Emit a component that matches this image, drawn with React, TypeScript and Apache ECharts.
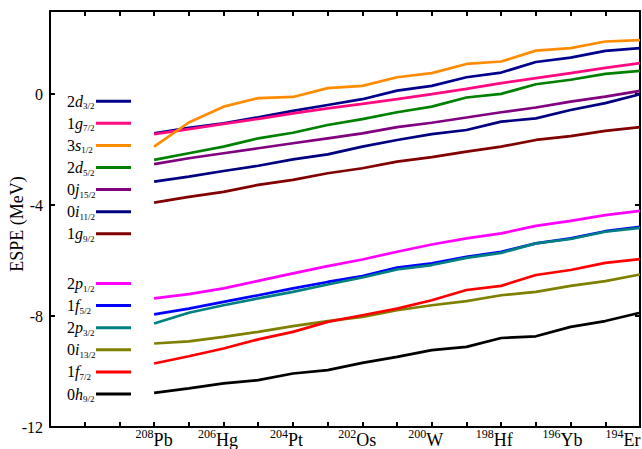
import React, { useEffect, useRef } from 'react';
import * as echarts from 'echarts';

const FONT = 'Liberation Serif';

// isotopes along the x axis (index 0..14, labels every second step)
const isotopeMass = ['208', '206', '204', '202', '200', '198', '196', '194'];
const isotopeSymbol = ['Pb', 'Hg', 'Pt', 'Os', 'W', 'Hf', 'Yb', 'Er'];

// orbital names (legend order)
const upperNames = ['2d3/2', '1g7/2', '3s1/2', '2d5/2', '0j15/2', '0i11/2', '1g9/2'];
const lowerNames = ['2p1/2', '1f5/2', '2p3/2', '0i13/2', '1f7/2', '0h9/2'];

// ESPE values (MeV) at x = 0..14
const s2d32 = [-1.41, -1.21, -1.05, -0.83, -0.6, -0.39, -0.18, 0.13, 0.3, 0.61, 0.78, 1.16, 1.32, 1.56, 1.66];
const s1g72 = [-1.44, -1.26, -1.07, -0.89, -0.69, -0.51, -0.35, -0.18, 0.0, 0.19, 0.4, 0.58, 0.76, 0.95, 1.12];
const s3s12 = [-1.89, -1.02, -0.45, -0.14, -0.1, 0.22, 0.3, 0.61, 0.76, 1.09, 1.18, 1.57, 1.66, 1.9, 1.95];
const s2d52 = [-2.37, -2.13, -1.89, -1.59, -1.39, -1.11, -0.9, -0.65, -0.45, -0.12, 0.01, 0.36, 0.52, 0.73, 0.84];
const s0j152 = [-2.52, -2.31, -2.13, -1.95, -1.77, -1.59, -1.41, -1.19, -1.03, -0.84, -0.65, -0.48, -0.27, -0.09, 0.12];
const s0i112 = [-3.15, -2.97, -2.77, -2.58, -2.35, -2.17, -1.89, -1.65, -1.44, -1.29, -0.99, -0.87, -0.57, -0.32, 0.0];
const s1g92 = [-3.91, -3.7, -3.52, -3.27, -3.09, -2.85, -2.67, -2.43, -2.27, -2.07, -1.89, -1.65, -1.51, -1.32, -1.19];
const s2p12 = [-7.36, -7.21, -7.0, -6.73, -6.46, -6.2, -5.96, -5.68, -5.42, -5.2, -5.02, -4.75, -4.57, -4.36, -4.21];
const s1f52 = [-7.94, -7.73, -7.49, -7.25, -7.0, -6.77, -6.56, -6.25, -6.1, -5.86, -5.68, -5.38, -5.2, -4.94, -4.78];
const s2p32 = [-8.27, -7.88, -7.61, -7.36, -7.13, -6.86, -6.61, -6.32, -6.16, -5.9, -5.72, -5.38, -5.22, -4.96, -4.82];
const s0i132 = [-8.99, -8.91, -8.75, -8.57, -8.36, -8.18, -8.03, -7.79, -7.61, -7.46, -7.25, -7.13, -6.91, -6.74, -6.5];
const s1f72 = [-9.71, -9.45, -9.17, -8.84, -8.57, -8.21, -7.97, -7.73, -7.43, -7.06, -6.91, -6.52, -6.34, -6.08, -5.95];
const s0h92 = [-10.77, -10.61, -10.43, -10.31, -10.07, -9.95, -9.69, -9.47, -9.23, -9.11, -8.79, -8.73, -8.39, -8.18, -7.88];

const seriesValues = [s2d32, s1g72, s3s12, s2d52, s0j152, s0i112, s1g92, s2p12, s1f52, s2p32, s0i132, s1f72, s0h92];
const seriesNames = [...upperNames, ...lowerNames];
const seriesColors = [
  '#00008b', '#ff0a80', '#ff8c00', '#008000', '#800080', '#000080', '#800000',
  '#ff00ff', '#0000ff', '#008080', '#808000', '#ff0000', '#000000',
];

// label horizontal nudge (pad widths) for the isotope labels
const labelPad = [0, 11, 13, 10, 12, 14, 16, 34];

const xRich: Record<string, any> = {
  sup: { fontSize: 12, fontFamily: FONT, color: '#000', padding: [0, 0, 12, 0], lineHeight: 18 },
  el: { fontSize: 18, fontFamily: FONT, color: '#000', lineHeight: 18 },
};
labelPad.forEach((w, i) => {
  xRich['p' + i] = { width: w, fontSize: 12, lineHeight: 18 };
});

const legendRich = {
  n: { fontSize: 16, fontFamily: FONT, color: '#000', lineHeight: 16, align: 'left' },
  l: { fontSize: 16, fontFamily: FONT, fontStyle: 'italic', color: '#000', lineHeight: 16, align: 'left' },
  s: { fontSize: 9, fontFamily: FONT, color: '#000', lineHeight: 16, padding: [10, 0, 0, 0], align: 'left' },
};

const legendFormatter = (name: string) => {
  const m = name.match(/^(\d)([a-z])(.*)$/);
  if (!m) return name;
  return `{n|${m[1]}}{l|${m[2]}}{s|${m[3]}}`;
};

const legendCommon = {
  orient: 'vertical',
  left: 67,
  align: 'right',
  icon: 'rect',
  itemWidth: 35,
  itemHeight: 3,
  itemGap: 3.1,
  padding: 0,
  selectedMode: false,
  formatter: legendFormatter,
  textStyle: { width: 24, fontFamily: FONT, fontSize: 16, color: '#000', rich: legendRich },
};

const axisLineStyle = { color: '#000', width: 2 };

export default function App() {
  const ref = useRef<HTMLDivElement>(null);
  useEffect(() => {
    const chart = echarts.init(ref.current!, null, { renderer: 'svg' });
    const option: any = {
      animation: false,
      backgroundColor: '#fff',
      grid: { left: 50, right: 2, top: 11, bottom: 22, containLabel: false, outerBoundsMode: 'none' },
      legend: [
        { ...legendCommon, top: 91.7, data: upperNames },
        { ...legendCommon, top: 274, data: lowerNames },
      ],
      xAxis: [
        {
          type: 'value', position: 'bottom', min: -3, max: 14, interval: 1,
          axisLine: { onZero: false, lineStyle: axisLineStyle },
          axisTick: { inside: true, length: 5, lineStyle: axisLineStyle },
          splitLine: { show: false },
          axisLabel: {
            margin: 4, showMaxLabel: true, showMinLabel: true, hideOverlap: false,
            formatter: (v: number) => {
              if (v < 0 || v % 2 !== 0) return '';
              const k = v / 2;
              if (k >= isotopeMass.length) return '';
              return `{sup|${isotopeMass[k]}}{el|${isotopeSymbol[k]}}` + (labelPad[k] > 0 ? `{p${k}| }` : '');
            },
            rich: xRich,
          },
        },
        {
          type: 'value', position: 'top', min: -3, max: 14, interval: 1,
          axisLine: { onZero: false, lineStyle: axisLineStyle },
          axisTick: { inside: true, length: 5, lineStyle: axisLineStyle },
          splitLine: { show: false },
          axisLabel: { show: false },
        },
      ],
      yAxis: [
        {
          type: 'value', position: 'left', min: -12, max: 3, interval: 4,
          name: 'ESPE (MeV)', nameLocation: 'middle', nameGap: 24, nameMoveOverlap: false,
          nameTextStyle: { fontSize: 18, fontFamily: FONT, color: '#000', padding: [0, 10, 0, 0] },
          axisLine: { show: true, onZero: false, lineStyle: axisLineStyle },
          axisTick: { show: true, inside: true, length: 5, lineStyle: axisLineStyle },
          splitLine: { show: false },
          axisLabel: {
            margin: 7, fontSize: 16, fontFamily: FONT, color: '#000',
            formatter: (v: number) => (Math.abs(v % 4) < 1e-9 ? String(v) : ''),
          },
        },
        {
          type: 'value', position: 'right', min: -12, max: 3, interval: 4,
          axisLine: { show: true, onZero: false, lineStyle: axisLineStyle },
          axisTick: { show: true, inside: true, length: 5, lineStyle: axisLineStyle },
          splitLine: { show: false },
          axisLabel: { show: false },
        },
      ],
      series: seriesValues.map((vals, si) => ({
        type: 'line',
        name: seriesNames[si],
        color: seriesColors[si],
        symbol: 'none',
        lineStyle: { width: 2.7, color: seriesColors[si] },
        data: vals.map((v, i) => [i, v]),
      })),
    };
    chart.setOption(option);
    return () => chart.dispose();
  }, []);
  return (
    <div
      ref={ref}
      style={{ position: 'fixed', left: 0, top: 0, width: 642, height: 449, background: '#fff' }}
    />
  );
}
